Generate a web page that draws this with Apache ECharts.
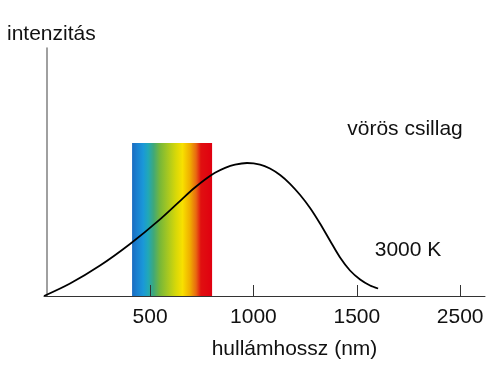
<!DOCTYPE html>
<html>
<head>
<meta charset="utf-8">
<script src="https://cdn.jsdelivr.net/npm/echarts@6/dist/echarts.min.js"></script>
<style>html,body{margin:0;padding:0;background:#fff}#c{width:500px;height:378px}</style>
</head>
<body>
<div id="c"></div>
<script>
// wavelength (nm) of curve points
var waveX = [-13, 113, 258, 403, 548, 669, 717, 766, 814, 863, 911, 969, 1032, 1080, 1129, 1177, 1225, 1274, 1322, 1370, 1419, 1467, 1516, 1564, 1603];
// relative intensity
var intensity = [0, 5.04, 12.3, 21.0, 30.9, 40.2, 43.75, 46.98, 49.68, 51.69, 52.98, 53.63, 53.02, 51.41, 48.79, 45.24, 40.81, 35.48, 29.23, 22.38, 15.52, 10.28, 6.65, 4.23, 3.02];
// tick positions and their printed labels
var tickValues = [500, 1000, 1500, 2000];
var tickLabels = ['500', '1000', '1500', '2500'];
// visible spectrum band
var spectrumRange = [413, 800];
var spectrumTop = 61.7;
var spectrumColors = ['#1a6cc0', '#1a80d0', '#1a98d8', '#20a8b8', '#40a878', '#78b838', '#a8c820', '#d8d808', '#f8e000', '#f0b000', '#e86810', '#e01010', '#e00010'];
var spectrumOffsets = [0, 0.06, 0.14, 0.2, 0.27, 0.35, 0.45, 0.55, 0.63, 0.72, 0.8, 0.86, 1];
// texts
var yTitle = 'intenzitás';
var xTitle = 'hullámhossz (nm)';
var starLabel = 'vörös csillag';
var tempLabel = '3000 K';

var chart = echarts.init(document.getElementById('c'), null, {renderer: 'canvas'});
var FONT = '"Liberation Sans", Arial, sans-serif';
var curve = waveX.map(function (x, i) { return [x, intensity[i]]; });
var stops = spectrumColors.map(function (c, i) { return {offset: spectrumOffsets[i], color: c}; });

chart.setOption({
  animation: false,
  backgroundColor: '#fff',
  grid: {left: 44, right: 15, top: 48, bottom: 82, containLabel: false},
  xAxis: {
    type: 'value', min: -13, max: 2120, z: 10,
    axisLine: {show: true, lineStyle: {color: '#333', width: 1}},
    axisTick: {show: true, inside: true, length: 11, customValues: tickValues, lineStyle: {color: '#333', width: 1}},
    axisLabel: {show: true, customValues: tickValues, margin: 11, color: '#111', fontSize: 21, fontFamily: FONT,
      formatter: function (v) { var i = tickValues.indexOf(v); return i >= 0 ? tickLabels[i] : ''; }},
    splitLine: {show: false}
  },
  yAxis: {
    type: 'value', min: 0, max: 100,
    axisLine: {show: true, lineStyle: {color: '#808080', width: 1.5}},
    axisTick: {show: false}, axisLabel: {show: false}, splitLine: {show: false}
  },
  series: [
    {
      type: 'line', data: [], z: 1, silent: true,
      markArea: {
        silent: true,
        itemStyle: {color: new echarts.graphic.LinearGradient(0, 0, 1, 0, stops), opacity: 1},
        data: [[{xAxis: spectrumRange[0], yAxis: 0}, {xAxis: spectrumRange[1], yAxis: spectrumTop}]]
      }
    },
    {
      type: 'line', data: curve, smooth: 0.3, showSymbol: false, z: 5,
      lineStyle: {color: '#000', width: 1.8}
    }
  ],
  graphic: [
    {type: 'text', left: 7, top: 24, style: {text: yTitle, font: '21px ' + FONT, fill: '#111'}},
    {type: 'text', x: 294.5, y: 349.4, style: {text: xTitle, font: '21px ' + FONT, fill: '#111', align: 'center', verticalAlign: 'middle'}},
    {type: 'text', x: 405, y: 129.4, style: {text: starLabel, font: '21px ' + FONT, fill: '#111', align: 'center', verticalAlign: 'middle'}},
    {type: 'text', x: 408, y: 250.7, style: {text: tempLabel, font: '21px ' + FONT, fill: '#111', align: 'center', verticalAlign: 'middle'}}
  ]
});
</script>
</body>
</html>
